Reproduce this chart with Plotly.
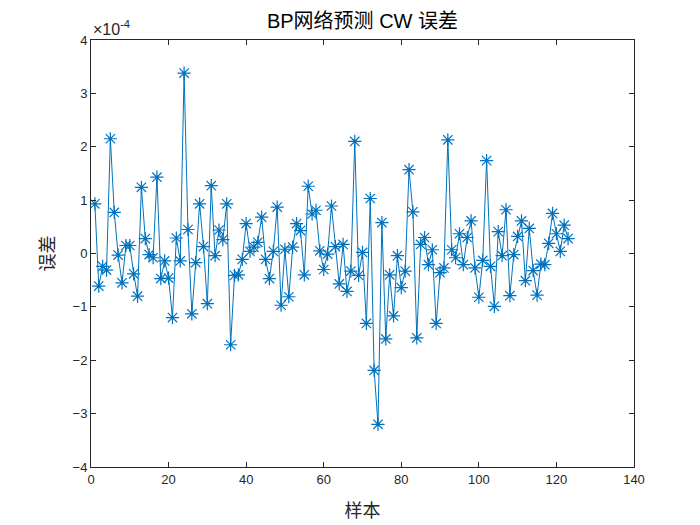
import plotly.graph_objects as go

# sample index and prediction error (units of 1e-4)
samples = list(range(1, 124))
errors_e4 = [
    0.93, -0.61, -0.24, -0.31, 2.15, 0.77, -0.03, -0.55, 0.15, 0.15,
    -0.38, -0.80, 1.24, 0.28, -0.02, -0.08, 1.43, -0.47, -0.14, -0.46,
    -1.20, 0.29, -0.14, 3.38, 0.45, -1.13, -0.17, 0.93, 0.13, -0.94,
    1.27, -0.04, 0.44, 0.26, 0.93, -1.71, -0.41, -0.40, -0.11, 0.56,
    0.04, 0.12, 0.21, 0.68, -0.11, -0.47, 0.04, 0.87, -0.97, 0.08,
    -0.81, 0.12, 0.56, 0.43, -0.40, 1.26, 0.74, 0.81, 0.05, -0.30,
    -0.01, 0.89, 0.13, -0.57, 0.17, -0.71, -0.33, 2.10, -0.41, 0.02,
    -1.31, 1.03, -2.19, -3.20, 0.58, -1.60, -0.40, -1.17, -0.04, -0.64,
    -0.33, 1.57, 0.78, -1.58, 0.17, 0.30, -0.21, 0.07, -1.31, -0.36,
    -0.27, 2.13, 0.07, -0.08, 0.37, -0.21, 0.30, 0.61, -0.27, -0.82,
    -0.13, 1.74, -0.24, -0.99, 0.41, -0.04, 0.82, -0.79, -0.02, 0.32,
    0.61, -0.51, 0.47, -0.32, -0.78, -0.20, -0.21, 0.19, 0.75, 0.37,
    0.04, 0.53, 0.28,
]
x_ticks = [0, 20, 40, 60, 80, 100, 120, 140]
y_ticks = [-4, -3, -2, -1, 0, 1, 2, 3, 4]

title_text = "BP网络预测 CW 误差"
x_label = "样本"
y_label = "误差"
exp_label = "×10<sup>-4</sup>"

blue = "#0072BD"
axcol = "#262626"
latin = "Liberation Sans, Arial, Noto Sans CJK SC, sans-serif"
cjk = "Noto Sans CJK SC, sans-serif"

fig = go.Figure()
fig.add_trace(go.Scatter(
    x=samples, y=errors_e4, mode="lines+markers",
    line=dict(color=blue, width=1),
    marker=dict(symbol="asterisk-open", size=11, color=blue,
                line=dict(color=blue, width=1.2)),
    showlegend=False,
))

axis_common = dict(
    showgrid=False, zeroline=False, showline=True, linecolor=axcol,
    linewidth=1, mirror="ticks", ticks="inside", ticklen=5,
    tickcolor=axcol, tickfont=dict(family=latin, size=13, color=axcol),
)
fig.update_xaxes(range=[0, 140], tickvals=x_ticks, **axis_common,
                 title=dict(text=x_label, font=dict(family=cjk, size=18, color=axcol), standoff=18))
fig.update_yaxes(range=[-4, 4], tickvals=y_ticks, **axis_common,
                 title=dict(text=y_label, font=dict(family=cjk, size=18, color=axcol), standoff=13))

fig.update_layout(
    width=700, height=525,
    margin=dict(l=83, r=74, t=32, b=66),
    paper_bgcolor="white", plot_bgcolor="white",
    title=dict(text=title_text, x=0.5, xref="paper", xanchor="center",
               y=1, yref="paper", yanchor="bottom", pad=dict(b=12),
               font=dict(family=latin, size=20, color="black")),
)
fig.add_annotation(text=exp_label, xref="paper", yref="paper", x=0, y=1,
                   xanchor="left", yanchor="bottom", showarrow=False,
                   yshift=0, font=dict(family=latin, size=16, color=axcol))

fig.write_html("out.html")
